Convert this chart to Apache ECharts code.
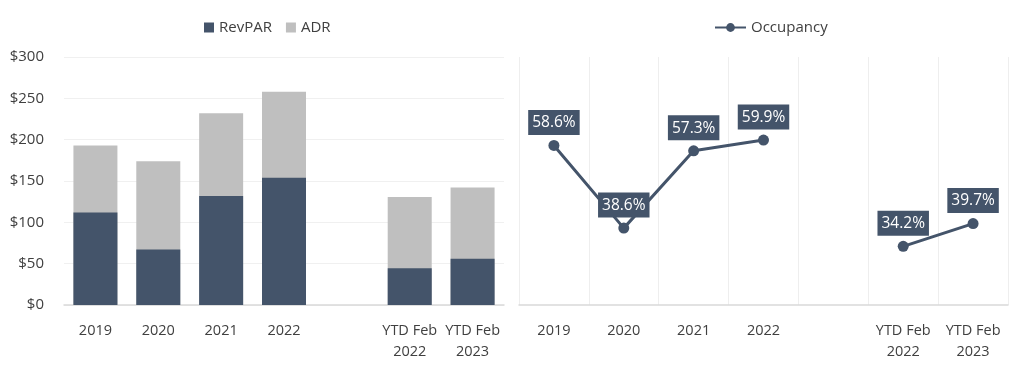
<!DOCTYPE html>
<html><head><meta charset="utf-8">
<script src="https://cdn.jsdelivr.net/npm/echarts@6/dist/echarts.min.js"></script>
<style>html,body{margin:0;padding:0;background:#fff}#c{width:1024px;height:367px}</style>
</head><body><div id="c"></div>
<script>
const categories = ['2019', '2020', '2021', '2022', '', 'YTD Feb\n2022', 'YTD Feb\n2023'];
const revpar = [112, 67, 132, 154, '-', 44.5, 56];
const adr = [193, 174, 232, 258, '-', 130.5, 142];
const occupancy = [58.6, 38.6, 57.3, 59.9, '-', 34.2, 39.7];
const dollarTicks = [0, 50, 100, 150, 200, 250, 300];

const FONT = 'Open Sans';
const dark = '#44546A';
const chart = echarts.init(document.getElementById('c'));
chart.setOption({
  animation: false,
  textStyle: { fontFamily: FONT },
  legend: [
    { left: 199, top: 15, itemWidth: 10, itemHeight: 10, itemGap: 14, icon: 'rect',
      textStyle: { fontSize: 15, color: '#404040', fontFamily: FONT },
      data: ['RevPAR', 'ADR'] },
    { left: 709, top: 15, itemWidth: 31, itemHeight: 11, itemGap: 10,
      textStyle: { fontSize: 15, color: '#404040', fontFamily: FONT },
      data: ['Occupancy'] }
  ],
  grid: [
    { left: 64, right: 520, top: 57, bottom: 62 },
    { left: 519, right: 16, top: 57, bottom: 62 }
  ],
  xAxis: [
    { type: 'category', gridIndex: 0, data: categories,
      axisLine: { lineStyle: { color: '#D9D9D9', width: 1.5 } }, axisTick: { show: false },
      axisLabel: { fontSize: 14.5, color: '#404040', margin: 15, lineHeight: 21, fontFamily: FONT, interval: 0 } },
    { type: 'category', gridIndex: 1, data: categories,
      axisLine: { lineStyle: { color: '#D9D9D9', width: 1.5 } }, axisTick: { show: false },
      splitLine: { show: true, lineStyle: { color: '#EEEEEE', width: 1 } },
      axisLabel: { fontSize: 14.5, color: '#404040', margin: 15, lineHeight: 21, fontFamily: FONT, interval: 0 } }
  ],
  yAxis: [
    { type: 'value', gridIndex: 0, min: dollarTicks[0], max: dollarTicks[dollarTicks.length - 1], interval: 50,
      axisLine: { show: false }, axisTick: { show: false },
      splitLine: { lineStyle: { color: '#F0F0F0' } },
      axisLabel: { fontSize: 15, color: '#404040', margin: 20, fontFamily: FONT, formatter: v => '$' + v } },
    { type: 'value', gridIndex: 1, min: 20, max: 80, show: false, splitLine: { show: false } }
  ],
  series: [
    { name: 'RevPAR', type: 'bar', xAxisIndex: 0, yAxisIndex: 0, data: revpar, z: 3,
      barWidth: '70%', barGap: '-100%', itemStyle: { color: dark } },
    { name: 'ADR', type: 'bar', xAxisIndex: 0, yAxisIndex: 0, data: adr, z: 2,
      barWidth: '70%', barGap: '-100%', itemStyle: { color: '#BFBFBF' } },
    { name: 'Occupancy', type: 'line', xAxisIndex: 1, yAxisIndex: 1, data: occupancy,
      connectNulls: false, symbol: 'circle', symbolSize: 11,
      lineStyle: { color: dark, width: 3 }, itemStyle: { color: dark },
      label: { show: true, position: 'top', distance: 5, color: '#fff', fontSize: 15.5,
        lineHeight: 18, fontFamily: FONT, backgroundColor: dark, padding: [4, 4, 3, 4],
        formatter: p => p.value.toFixed(1) + '%' } }
  ]
});
</script></body></html>
